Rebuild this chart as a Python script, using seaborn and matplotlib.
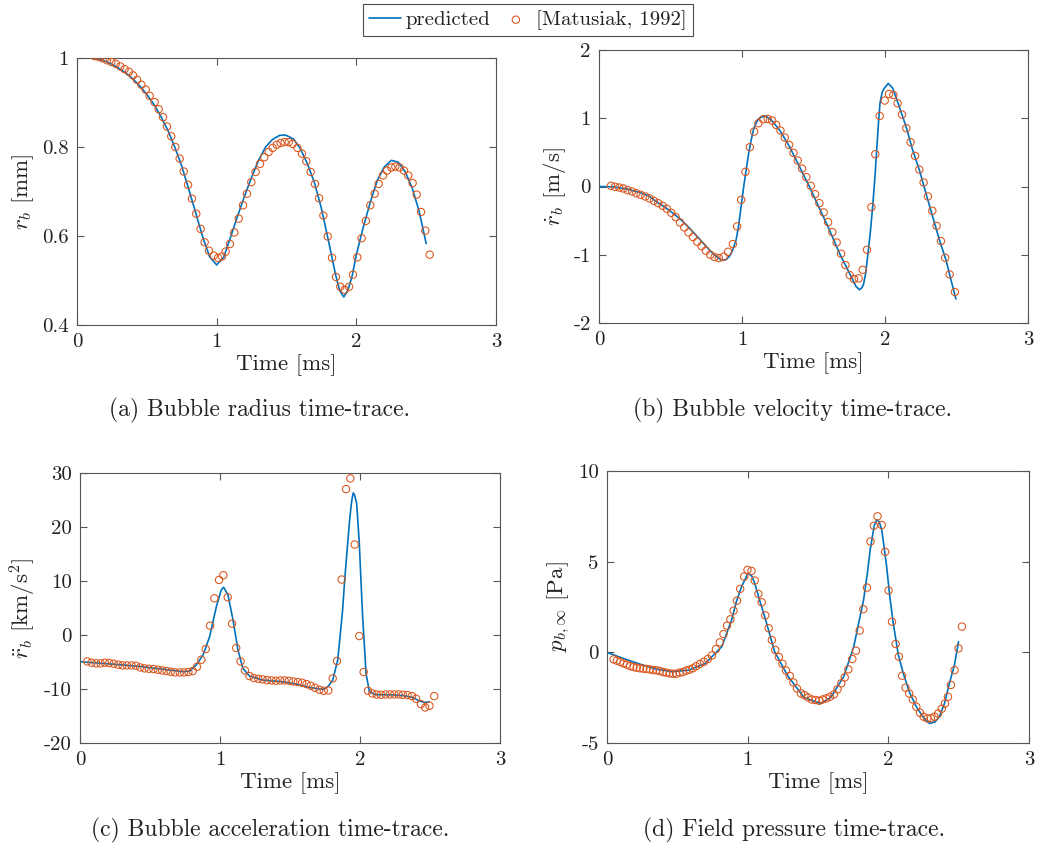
import numpy as np
import pandas as pd
import matplotlib
matplotlib.use("Agg")
import matplotlib.pyplot as plt
import seaborn as sns

# ---------------- data ----------------
# (a) bubble radius [mm]
a_line_t = [0.00, 0.05, 0.10, 0.15, 0.20, 0.25, 0.30, 0.35, 0.40, 0.45, 0.50, 0.55, 0.60, 0.65, 0.70,
            0.75, 0.80, 0.85, 0.90, 0.95, 1.00, 1.05, 1.10, 1.15, 1.20, 1.25, 1.30, 1.35, 1.40, 1.45,
            1.48, 1.50, 1.55, 1.60, 1.65, 1.70, 1.75, 1.80, 1.85, 1.88, 1.91, 1.94, 1.97, 2.00, 2.05,
            2.10, 2.15, 2.20, 2.25, 2.30, 2.35, 2.40, 2.45, 2.50]
a_line_v = [1.000, 1.000, 1.000, 0.998, 0.993, 0.986, 0.977, 0.966, 0.953, 0.937, 0.918, 0.896, 0.869, 0.838, 0.800,
            0.757, 0.705, 0.652, 0.598, 0.553, 0.535, 0.552, 0.598, 0.645, 0.690, 0.732, 0.770, 0.800, 0.817, 0.826,
            0.827, 0.826, 0.818, 0.796, 0.762, 0.720, 0.662, 0.590, 0.515, 0.478, 0.463, 0.478, 0.510, 0.558, 0.620,
            0.676, 0.725, 0.755, 0.770, 0.766, 0.744, 0.708, 0.655, 0.583]
a_obs_t = [0.126, 0.158, 0.186, 0.215, 0.246, 0.277, 0.310, 0.341, 0.372, 0.401, 0.430, 0.461, 0.492, 0.520,
           0.556, 0.585, 0.616, 0.644, 0.675, 0.704, 0.735, 0.764, 0.795, 0.823, 0.854, 0.885, 0.914, 0.945,
           0.979, 1.010, 1.038, 1.064, 1.095, 1.126, 1.158, 1.189, 1.217, 1.248, 1.279, 1.310, 1.341, 1.372,
           1.401, 1.430, 1.458, 1.487, 1.516, 1.544, 1.578, 1.611, 1.642, 1.673, 1.704, 1.733, 1.764, 1.795,
           1.826, 1.854, 1.885, 1.916, 1.948, 1.976, 2.007, 2.038, 2.069, 2.100, 2.131, 2.160, 2.191, 2.220,
           2.251, 2.279, 2.310, 2.341, 2.372, 2.403, 2.432, 2.463, 2.494, 2.525]
a_obs_v = [1.004, 1.002, 0.999, 0.995, 0.991, 0.987, 0.981, 0.975, 0.969, 0.961, 0.951, 0.940, 0.929, 0.915,
           0.901, 0.885, 0.867, 0.846, 0.824, 0.800, 0.774, 0.745, 0.715, 0.684, 0.650, 0.616, 0.586, 0.567,
           0.556, 0.551, 0.554, 0.565, 0.582, 0.608, 0.639, 0.669, 0.695, 0.721, 0.744, 0.762, 0.777, 0.789,
           0.798, 0.805, 0.809, 0.811, 0.811, 0.807, 0.798, 0.785, 0.768, 0.744, 0.717, 0.685, 0.646, 0.599,
           0.551, 0.508, 0.486, 0.479, 0.486, 0.513, 0.552, 0.595, 0.634, 0.669, 0.695, 0.717, 0.736, 0.747,
           0.754, 0.756, 0.754, 0.747, 0.736, 0.719, 0.693, 0.654, 0.612, 0.558]

# (b) bubble velocity [m/s]
b_line_t = [0.0, 0.1, 0.2, 0.284, 0.35, 0.40, 0.46, 0.517, 0.575, 0.633, 0.69, 0.75, 0.80, 0.835, 0.861,
            0.89, 0.913, 0.935, 0.959, 0.976, 0.994, 1.012, 1.029, 1.046, 1.064, 1.08, 1.099, 1.115, 1.134,
            1.164, 1.204, 1.262, 1.332, 1.402, 1.471, 1.541, 1.611, 1.681, 1.751, 1.797, 1.821, 1.835, 1.849,
            1.864, 1.879, 1.897, 1.914, 1.93, 1.942, 1.955, 1.965, 1.98, 1.995, 2.023, 2.054, 2.10, 2.147,
            2.193, 2.24, 2.286, 2.333, 2.38, 2.426, 2.461, 2.496]
b_line_v = [0.0, -0.005, -0.04, -0.088, -0.14, -0.22, -0.30, -0.39, -0.49, -0.61, -0.74, -0.88, -0.99, -1.05, -1.083,
            -1.07, -1.02, -0.93, -0.78, -0.58, -0.29, 0.0, 0.24, 0.48, 0.68, 0.83, 0.93, 0.99, 1.015,
            1.034, 0.976, 0.83, 0.585, 0.29, 0.0, -0.317, -0.634, -0.976, -1.268, -1.463, -1.512, -1.49, -1.44,
            -1.28, -1.02, -0.68, -0.29, 0.15, 0.537, 0.95, 1.22, 1.38, 1.44, 1.51, 1.44, 1.17, 0.878,
            0.537, 0.244, -0.098, -0.439, -0.78, -1.073, -1.366, -1.649]
b_obs_t = [0.084, 0.112, 0.142, 0.170, 0.200, 0.231, 0.261, 0.291, 0.324, 0.354, 0.384, 0.414, 0.445, 0.475,
           0.505, 0.536, 0.566, 0.596, 0.626, 0.657, 0.687, 0.717, 0.747, 0.778, 0.808, 0.838, 0.871, 0.903,
           0.936, 0.966, 0.994, 1.024, 1.055, 1.085, 1.115, 1.148, 1.180, 1.211, 1.239, 1.269, 1.299, 1.329,
           1.360, 1.390, 1.420, 1.450, 1.481, 1.511, 1.541, 1.571, 1.602, 1.632, 1.662, 1.693, 1.723, 1.753,
           1.783, 1.816, 1.844, 1.874, 1.905, 1.932, 1.963, 1.998, 2.028, 2.058, 2.088, 2.119, 2.149, 2.179,
           2.210, 2.240, 2.270, 2.300, 2.331, 2.361, 2.391, 2.421, 2.452, 2.489]
b_obs_v = [0.010, -0.005, -0.015, -0.029, -0.054, -0.073, -0.098, -0.122, -0.146, -0.176, -0.210, -0.244, -0.283, -0.327,
           -0.385, -0.449, -0.527, -0.600, -0.673, -0.741, -0.810, -0.873, -0.941, -1.000, -1.034, -1.049, -1.029, -0.956,
           -0.844, -0.585, -0.195, 0.215, 0.576, 0.805, 0.927, 0.985, 0.990, 0.966, 0.902, 0.820, 0.717, 0.610,
           0.493, 0.380, 0.263, 0.137, 0.010, -0.112, -0.244, -0.380, -0.522, -0.668, -0.820, -0.985, -1.151, -1.298,
           -1.356, -1.346, -1.220, -0.927, -0.302, 0.473, 1.034, 1.259, 1.356, 1.341, 1.220, 1.054, 0.854, 0.649,
           0.449, 0.249, 0.059, -0.146, -0.356, -0.576, -0.800, -1.044, -1.288, -1.546]

# (c) bubble acceleration [km/s^2]
c_line_t = [0.0, 0.166, 0.40, 0.64, 0.736, 0.784, 0.83, 0.879, 0.926, 0.974, 1.009, 1.026, 1.057, 1.093,
            1.128, 1.164, 1.211, 1.306, 1.449, 1.544, 1.639, 1.734, 1.770, 1.805, 1.841, 1.876, 1.89, 1.912,
            1.925, 1.936, 1.945, 1.952, 1.96, 1.976, 1.985, 1.995, 2.007, 2.019, 2.043, 2.067, 2.114, 2.209,
            2.304, 2.375, 2.423, 2.458, 2.494]
c_line_v = [-4.95, -5.26, -5.75, -6.49, -6.8, -6.68, -5.57, -3.71, -0.31, 5.26, 8.35, 8.84, 7.42, 2.78,
            -2.78, -6.18, -7.6, -8.35, -8.66, -9.09, -9.71, -10.08, -9.59, -8.35, -4.64, 4.64, 10.0, 17.0,
            21.0, 23.8, 25.5, 26.3, 26.0, 24.4, 21.0, 17.0, 10.0, 3.4, -7.1, -10.5, -11.07, -11.07,
            -11.2, -11.56, -12.18, -12.5, -12.37]
c_obs_t = [0.052, 0.083, 0.116, 0.147, 0.178, 0.209, 0.240, 0.273, 0.304, 0.335, 0.368, 0.399, 0.430, 0.461,
           0.492, 0.525, 0.556, 0.587, 0.618, 0.648, 0.679, 0.713, 0.743, 0.774, 0.805, 0.836, 0.867, 0.898,
           0.929, 0.960, 0.993, 1.024, 1.055, 1.086, 1.116, 1.147, 1.178, 1.211, 1.242, 1.273, 1.304, 1.337,
           1.368, 1.399, 1.430, 1.461, 1.492, 1.523, 1.556, 1.587, 1.618, 1.648, 1.679, 1.710, 1.741, 1.774,
           1.805, 1.836, 1.869, 1.900, 1.931, 1.962, 1.995, 2.026, 2.057, 2.088, 2.119, 2.150, 2.183, 2.214,
           2.245, 2.276, 2.306, 2.340, 2.371, 2.401, 2.435, 2.466, 2.496, 2.530]
c_obs_v = [-4.89, -5.13, -5.26, -5.26, -5.13, -5.19, -5.32, -5.50, -5.63, -5.63, -5.63, -5.69, -6.00, -6.18,
           -6.25, -6.31, -6.43, -6.55, -6.68, -6.80, -6.93, -6.93, -6.93, -6.86, -6.68, -5.88, -4.58, -2.60,
           1.73, 6.80, 10.20, 11.07, 6.99, 2.10, -2.41, -4.89, -6.56, -7.61, -7.98, -8.10, -8.22, -8.35,
           -8.41, -8.47, -8.41, -8.41, -8.47, -8.60, -8.72, -8.84, -9.09, -9.40, -9.77, -10.14, -10.33, -10.27,
           -8.04, -4.82, 10.27, 27.03, 29.00, 16.76, -0.19, -6.86, -10.33, -10.82, -11.01, -11.07, -11.01, -11.01,
           -11.01, -11.01, -11.07, -11.13, -11.32, -11.81, -12.80, -13.42, -13.11, -11.32]

# (d) field pressure [Pa]
d_line_t = [0.0, 0.113, 0.230, 0.347, 0.464, 0.581, 0.699, 0.816, 0.886, 0.92, 0.957, 1.003, 1.03, 1.050,
            1.08, 1.121, 1.191, 1.285, 1.402, 1.519, 1.590, 1.683, 1.754, 1.824, 1.85, 1.871, 1.90, 1.918,
            1.935, 1.953, 1.97, 1.988, 2.01, 2.035, 2.07, 2.106, 2.15, 2.199, 2.25, 2.293, 2.33, 2.363,
            2.40, 2.434, 2.47, 2.499]
d_line_v = [0.0, -0.33, -0.64, -0.92, -1.07, -0.98, -0.61, 0.31, 1.79, 2.8, 3.63, 4.36, 4.2, 3.81,
            3.0, 1.97, 0.05, -1.3, -2.5, -2.82, -2.49, -1.34, 0.31, 2.89, 4.3, 5.65, 7.0, 7.31,
            7.2, 6.76, 5.8, 4.73, 3.1, 1.60, -0.1, -1.16, -2.2, -3.0, -3.6, -3.92, -3.85, -3.55,
            -2.8, -1.71, -0.7, 0.59]
d_obs_t = [0.047, 0.070, 0.094, 0.117, 0.141, 0.164, 0.188, 0.211, 0.234, 0.258, 0.281, 0.305, 0.328, 0.352,
           0.375, 0.399, 0.422, 0.445, 0.469, 0.492, 0.516, 0.539, 0.563, 0.586, 0.610, 0.633, 0.661, 0.689,
           0.717, 0.746, 0.774, 0.802, 0.828, 0.853, 0.877, 0.900, 0.924, 0.947, 0.975, 0.999, 1.027, 1.050,
           1.076, 1.100, 1.125, 1.149, 1.172, 1.196, 1.222, 1.247, 1.273, 1.299, 1.325, 1.350, 1.379, 1.404,
           1.430, 1.456, 1.482, 1.508, 1.533, 1.559, 1.585, 1.613, 1.639, 1.665, 1.690, 1.716, 1.744, 1.770,
           1.796, 1.822, 1.848, 1.873, 1.897, 1.923, 1.953, 1.977, 2.002, 2.026, 2.052, 2.075, 2.098, 2.122,
           2.148, 2.174, 2.199, 2.225, 2.251, 2.277, 2.302, 2.328, 2.354, 2.380, 2.403, 2.424, 2.445, 2.471,
           2.499, 2.523]
d_obs_v = [-0.39, -0.46, -0.53, -0.61, -0.68, -0.76, -0.81, -0.85, -0.88, -0.90, -0.92, -0.94, -0.98, -0.99,
           -1.03, -1.09, -1.12, -1.16, -1.18, -1.18, -1.12, -1.09, -1.01, -0.96, -0.88, -0.77, -0.64, -0.52,
           -0.37, -0.17, 0.17, 0.55, 1.01, 1.47, 1.82, 2.30, 2.85, 3.50, 4.18, 4.55, 4.49, 3.96,
           3.22, 2.76, 2.04, 1.33, 0.68, 0.13, -0.26, -0.63, -1.01, -1.30, -1.66, -1.99, -2.27, -2.36,
           -2.49, -2.60, -2.63, -2.67, -2.60, -2.54, -2.45, -2.32, -2.04, -1.71, -1.38, -0.94, -0.37, 0.09,
           1.20, 2.38, 3.57, 6.11, 6.98, 7.50, 7.02, 5.54, 3.41, 1.69, 0.46, -0.24, -1.29, -1.95,
           -2.27, -2.60, -3.00, -3.33, -3.55, -3.65, -3.63, -3.55, -3.37, -3.11, -2.82, -2.45, -1.80, -0.98,
           0.22, 1.42]

x_ticks = [0, 1, 2, 3]
x_ticklabels = ["0", "1", "2", "3"]
a_yticks = [0.4, 0.6, 0.8, 1.0]
a_yticklabels = ["0.4", "0.6", "0.8", "1"]
b_yticks = [-2, -1, 0, 1, 2]
b_yticklabels = ["-2", "-1", "0", "1", "2"]
c_yticks = [-20, -10, 0, 10, 20, 30]
c_yticklabels = ["-20", "-10", "0", "10", "20", "30"]
d_yticks = [-5, 0, 5, 10]
d_yticklabels = ["-5", "0", "5", "10"]

ylabels = [r"$r_b$ [mm]", r"$\dot{r}_b$ [m/s]", r"$\ddot{r}_b$ [km/s$^2$]", r"$p_{b,\infty}$ [Pa]"]
captions = ["(a) Bubble radius time-trace.", "(b) Bubble velocity time-trace.",
            "(c) Bubble acceleration time-trace.", "(d) Field pressure time-trace."]
series_labels = ["predicted", "[Matusiak, 1992]"]

# ---------------- style ----------------
sns.set_theme(style="ticks")
plt.rcParams.update({
    "font.family": ["cmr10"],
    "mathtext.fontset": "cm",
    "axes.unicode_minus": False,
    "axes.formatter.use_mathtext": True,
    "axes.edgecolor": "#555555",
    "axes.linewidth": 0.8,
    "xtick.direction": "in",
    "ytick.direction": "in",
    "xtick.top": True,
    "ytick.right": True,
    "xtick.color": "#555555",
    "ytick.color": "#555555",
    "xtick.labelcolor": "#222222",
    "ytick.labelcolor": "#222222",
    "xtick.major.size": 5,
    "ytick.major.size": 5,
    "xtick.major.width": 0.8,
    "ytick.major.width": 0.8,
    "xtick.labelsize": 15,
    "ytick.labelsize": 15,
    "axes.labelsize": 16.5,
    "text.color": "#222222",
    "axes.labelcolor": "#222222",
})

BLUE = "#0072BD"
ORANGE = "#D95319"

fig = plt.figure(figsize=(10.44, 8.52), dpi=100)
W, H = 1044, 852
boxes = [(77, 496, 58, 325), (599, 1028, 50, 323), (80, 500, 473, 743), (607, 1029, 471, 743)]
axes = [fig.add_axes([l / W, (H - b) / H, (r - l) / W, (b - t) / H]) for (l, r, t, b) in boxes]

panels = [
    (a_line_t, a_line_v, a_obs_t, a_obs_v, (0.4, 1.0), a_yticks, a_yticklabels),
    (b_line_t, b_line_v, b_obs_t, b_obs_v, (-2, 2), b_yticks, b_yticklabels),
    (c_line_t, c_line_v, c_obs_t, c_obs_v, (-20, 30), c_yticks, c_yticklabels),
    (d_line_t, d_line_v, d_obs_t, d_obs_v, (-5, 10), d_yticks, d_yticklabels),
]

for i, (ax, (lt, lv, ot, ov, ylim, yt, ytl)) in enumerate(zip(axes, panels)):
    line_df = pd.DataFrame({"t": lt, "v": lv})
    obs_df = pd.DataFrame({"t": ot, "v": ov})
    sns.lineplot(data=line_df, x="t", y="v", ax=ax, color=BLUE, linewidth=1.2,
                 label=series_labels[0], legend=False, sort=False, estimator=None, zorder=2)
    sns.scatterplot(data=obs_df, x="t", y="v", ax=ax, marker="o", s=28, color=ORANGE,
                    facecolor="none", edgecolor=ORANGE, linewidth=0.75,
                    label=series_labels[1], legend=False, zorder=3)
    ax.set_xlim(0, 3)
    ax.set_ylim(*ylim)
    ax.set_xticks(x_ticks)
    ax.set_xticklabels(x_ticklabels)
    ax.set_yticks(yt)
    ax.set_yticklabels(ytl)
    ax.set_xlabel("Time [ms]", labelpad=2)
    ax.set_ylabel(ylabels[i], labelpad=4)
    ax.tick_params(which="both", pad=6)
    for s in ax.spines.values():
        s.set_visible(True)

handles, labels = axes[0].get_legend_handles_labels()
leg = fig.legend(handles, labels, loc="upper center", bbox_to_anchor=(528 / W, 1 - 4 / H), ncol=2,
                 fontsize=15, frameon=True, fancybox=False, edgecolor="#222222",
                 handlelength=1.55, handletextpad=0.2, columnspacing=0.45, borderpad=0.3,
                 scatterpoints=1, borderaxespad=0)
leg.get_frame().set_linewidth(0.8)

cap_pos = [(260, 410), (793, 410), (270, 830), (794, 830)]
for (cx, cy), txt in zip(cap_pos, captions):
    fig.text(cx / W, 1 - cy / H, txt, ha="center", va="center", fontsize=17)

fig.savefig("out.png", dpi=100)
